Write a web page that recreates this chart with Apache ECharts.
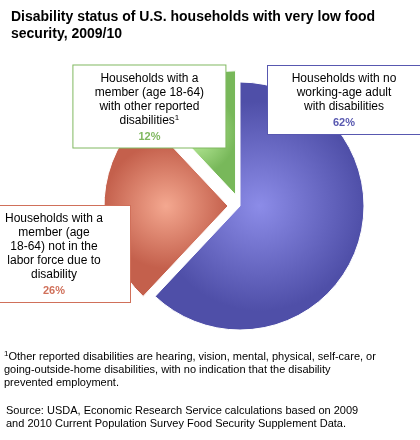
<!DOCTYPE html>
<html><head><meta charset="utf-8">
<script src="https://cdn.jsdelivr.net/npm/echarts@6/dist/echarts.min.js"></script>
<style>body{margin:0}#c{width:420px;height:440px}</style></head>
<body><div id="c"></div>
<script>
var categories = ['Households with no\nworking-age adult\nwith disabilities',
  'Households with a\nmember (age\n18-64) not in the\nlabor force due to\ndisability',
  'Households with a\nmember (age 18-64)\nwith other reported\ndisabilities'];
var values = [62, 26, 12];
var edgeColors = ['#4f4fa8', '#c4604c', '#78b85a'];
var centerColors = ['#8c8ce8', '#f4a890', '#c4f4a4'];
var textColors = ['#5858b0', '#d0705a', '#80b860'];
var boxPos = [[344, 66], [72, 234], [146, 50]];

var chart = echarts.init(document.getElementById('c'));
chart.setOption({
  title: {text: 'Disability status of U.S. households with very low food\nsecurity, 2009/10',
    left: 6, top: 4, textStyle: {fontFamily: 'Arial', fontSize: 14, fontWeight: 'bold', color: '#000', lineHeight: 17}},
  graphic: [
    {type: 'text', left: 4, top: 350, style: {text: '{s|1}Other reported disabilities are hearing, vision, mental, physical, self-care, or\ngoing-outside-home disabilities, with no indication that the disability\nprevented employment.',
      font: '11px Arial', fill: '#000', lineHeight: 13, rich: {s: {fontSize: 8, verticalAlign: 'top'}}}},
    {type: 'text', left: 6, top: 404, style: {text: 'Source: USDA, Economic Research Service calculations based on 2009\nand 2010 Current Population Survey Food Security Supplement Data.',
      font: '11px Arial', fill: '#000', lineHeight: 13}}
  ],
  series: [{
    type: 'pie', center: [240, 206], radius: [0, 124], startAngle: 90, clockwise: true,
    selectedMode: 'multiple', selectedOffset: 12, animation: false,
    data: categories.map(function (c, i) {
      return {name: c, value: values[i], selected: i > 0,
        itemStyle: {color: {type: 'radial', x: 0.5, y: 0.5, r: 0.5,
          colorStops: [{offset: 0, color: centerColors[i]}, {offset: 1, color: edgeColors[i]}]},
          borderColor: '#fff', borderWidth: 1},
        label: {borderColor: textColors[i], rich: {p: {color: textColors[i], fontWeight: 'bold', fontSize: 11, padding: [4, 0, 0, 0]}, s: {fontSize: 8, verticalAlign: 'top', color: '#000'}}}};
    }),
    label: {show: true, position: 'outside', backgroundColor: '#fff', borderWidth: 1,
      width: 140, overflow: 'none',
      padding: [6, 6, 6, 6], fontFamily: 'Arial', fontSize: 12, color: '#000', lineHeight: 14, align: 'center',
      formatter: function (p) { return p.name + (p.dataIndex === 2 ? '{s|1}' : '') + '\n{p|' + p.value + '%}'; }},
    labelLine: {show: false},
    labelLayout: function (p) { var b = boxPos[p.dataIndex]; return {x: b[0], y: b[1], align: 'center', verticalAlign: 'top'}; }
  }]
});
</script></body></html>
